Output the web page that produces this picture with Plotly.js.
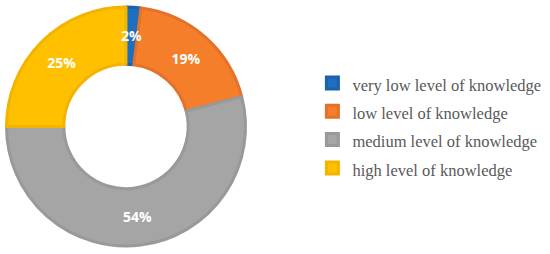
<!DOCTYPE html>
<html>
<head>
<meta charset="utf-8">
<script src="https://cdn.plot.ly/plotly-3.0.1.min.js"></script>
<style>
  html, body { margin: 0; padding: 0; background: #fff; }
  #chart { width: 550px; height: 254px; }
</style>
</head>
<body>
<div id="chart"></div>
<script>
// knowledge levels and their shares (%)
const levels = ["very low level of knowledge", "low level of knowledge", "medium level of knowledge", "high level of knowledge"];
const shares = [2, 19, 54, 25];
const fillColors = ["#1F6FC1", "#F47E2A", "#A5A5A5", "#FFC000"];
const edgeColors = ["#1B62AA", "#E5722A", "#999999", "#F2B400"];

const W = 550, H = 254;
const holeFrac = 0.52;
// pie domain (pixels), the ring sits left of the legend
const cx = 126, cy = 126.5, rad = 119.5;

// the 2% slice is too thin for plotly to keep its label inside at full size,
// so that one label is placed as an annotation at the slice's mid angle
const total = shares.reduce((a, b) => a + b, 0);
const texts = shares.map((v, i) => i === 0 ? "" : Math.round(v / total * 100) + "%");
const midAng = (shares[0] / 2) / total * 2 * Math.PI;
const midR = rad * (1 + holeFrac) / 2;

// legend rows are spaced by legend.font.size, the label itself is drawn smaller
const legendNames = levels.map(l => '<span style="font-size:16.5px">' + l + '</span>');

const trace = {
    type: "pie",
    labels: legendNames,
    values: shares,
    hole: holeFrac,
    sort: false,
    direction: "clockwise",
    rotation: 0,
    text: texts,
    textinfo: "text",
    textposition: "inside",
    insidetextorientation: "horizontal",
    textfont: { family: "Open Sans", size: 14, color: "#ffffff", weight: "bold" },
    marker: { colors: fillColors, line: { color: edgeColors, width: 3 } },
    domain: { x: [(cx - rad) / W, (cx + rad) / W], y: [(H - cy - rad) / H, (H - cy + rad) / H] },
    hoverinfo: "label+percent"
};

const layout = {
    width: W,
    height: H,
    margin: { l: 0, r: 0, t: 0, b: 0 },
    paper_bgcolor: "#ffffff",
    showlegend: true,
    legend: {
        x: 0.568,
        y: 0.505,
        xanchor: "left",
        yanchor: "middle",
        font: { family: "Liberation Serif", size: 19.5, color: "#595959" },
        itemwidth: 30
    },
    annotations: [{
        xref: "paper", yref: "paper",
        x: (cx + midR * Math.sin(midAng)) / W,
        y: (H - cy + midR * Math.cos(midAng)) / H,
        xanchor: "center",
        yanchor: "middle",
        text: Math.round(shares[0] / total * 100) + "%",
        showarrow: false,
        font: { family: "Open Sans", size: 14, color: "#ffffff", weight: "bold" }
    }]
};

Plotly.newPlot("chart", [trace], layout, { displayModeBar: false });
</script>
</body>
</html>
